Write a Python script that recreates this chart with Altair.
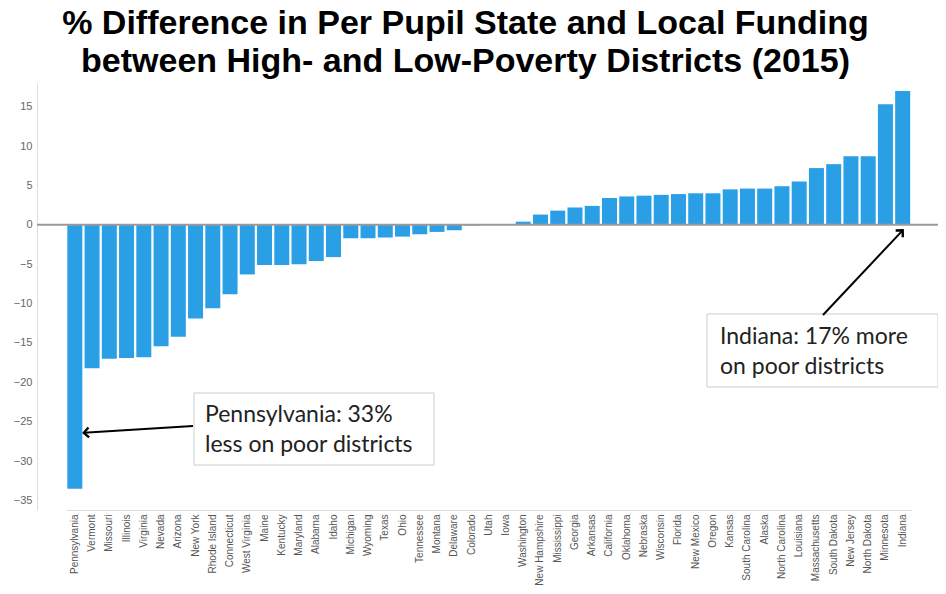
import altair as alt
import pandas as pd

states = [
    "Pennsylvania", "Vermont", "Missouri", "Illinois", "Virginia", "Nevada",
    "Arizona", "New York", "Rhode Island", "Connecticut", "West Virginia",
    "Maine", "Kentucky", "Maryland", "Alabama", "Idaho", "Michigan", "Wyoming",
    "Texas", "Ohio", "Tennessee", "Montana", "Delaware", "Colorado", "Utah",
    "Iowa", "Washington", "New Hampshire", "Mississippi", "Georgia", "Arkansas",
    "California", "Oklahoma", "Nebraska", "Wisconsin", "Florida", "New Mexico",
    "Oregon", "Kansas", "South Carolina", "Alaska", "North Carolina",
    "Louisiana", "Massachusetts", "South Dakota", "New Jersey", "North Dakota",
    "Minnesota", "Indiana",
]
pct_diff = [
    -33.5, -18.2, -17.0, -16.9, -16.8, -15.4,
    -14.2, -11.9, -10.6, -8.8, -6.3,
    -5.1, -5.1, -5.0, -4.6, -4.1, -1.7, -1.7,
    -1.6, -1.5, -1.2, -0.9, -0.7, -0.1, 0.1,
    0.1, 0.4, 1.3, 1.8, 2.2, 2.4,
    3.4, 3.6, 3.7, 3.8, 3.9, 4.0,
    4.0, 4.5, 4.6, 4.6, 4.9,
    5.5, 7.2, 7.7, 8.7, 8.7,
    15.3, 17.0,
]
y_ticks = [-35, -30, -25, -20, -15, -10, -5, 0, 5, 10, 15]

title_lines = [
    "% Difference in Per Pupil State and Local Funding",
    "between High- and Low-Poverty Districts (2015)",
]
note_penn = ["Pennsylvania: 33%", "less on poor districts"]
note_ind = ["Indiana: 17% more", "on poor districts"]

df = pd.DataFrame({"state": states, "value": pct_diff})

x_scale = alt.Scale(paddingInner=0.13, paddingOuter=0.065, range=[29.2, 874.3])
y_scale = alt.Scale(domain=[-36.2, 18], nice=False, zero=False)

x_enc = alt.X(
    "state:N",
    sort=states,
    title=None,
    scale=x_scale,
    axis=alt.Axis(
        labelAngle=270,
        labelFont="Liberation Sans",
        labelFontSize=10,
        labelColor="#555555",
        labelPadding=4,
        ticks=False,
        domainColor="#dddddd",
        labelOverlap=False,
    ),
)
y_enc = alt.Y(
    "value:Q",
    title=None,
    scale=y_scale,
    axis=alt.Axis(
        values=y_ticks,
        grid=False,
        labelFont="Liberation Sans",
        labelFontSize=11,
        labelColor="#666666",
        labelPadding=5,
        tickSize=0,
        domainColor="#dddddd",
    ),
)

bars = alt.Chart(df).mark_bar(color="#2A9FE6").encode(x=x_enc, y=y_enc)

zero = alt.Chart(pd.DataFrame({"value": [0]})).mark_rule(
    color="#9a9a9a", strokeWidth=2
).encode(y=alt.Y("value:Q", title=None))

# annotation anchors (data coordinates of arrow tips)
tips = pd.DataFrame({
    "state": ["Pennsylvania", "Indiana"],
    "value": [-26.4, -0.7],
})

arrow_penn = alt.Chart(tips.iloc[[0]]).mark_rule(
    color="black", strokeWidth=2, xOffset=9
).encode(
    x=alt.X("state:N", sort=states, title=None),
    y=alt.Y("value:Q", title=None),
    x2=alt.value(156),
    y2=alt.value(343),
)
arrow_ind = alt.Chart(tips.iloc[[1]]).mark_rule(
    color="black", strokeWidth=2
).encode(
    x=alt.X("state:N", sort=states, title=None),
    y=alt.Y("value:Q", title=None),
    x2=alt.value(786),
    y2=alt.value(232),
)
chevron = "M -0.7 0.7 L 0 0 L 0.7 0.7"
head_penn = alt.Chart(tips.iloc[[0]]).mark_point(
    shape=chevron, size=200, filled=False, color="black",
    strokeWidth=2.4, angle=266, xOffset=9, opacity=1,
).encode(x=alt.X("state:N", sort=states, title=None), y=alt.Y("value:Q", title=None))
head_ind = alt.Chart(tips.iloc[[1]]).mark_point(
    shape=chevron, size=200, filled=False, color="black",
    strokeWidth=2.4, angle=44, opacity=1,
).encode(x=alt.X("state:N", sort=states, title=None), y=alt.Y("value:Q", title=None))

box_df = pd.DataFrame({"k": [0]})
box_penn = alt.Chart(box_df).mark_rect(
    fill="white", stroke="#cccccc", strokeWidth=1
).encode(x=alt.value(157), x2=alt.value(397), y=alt.value(310), y2=alt.value(382))
box_ind = alt.Chart(box_df).mark_rect(
    fill="white", stroke="#cccccc", strokeWidth=1
).encode(x=alt.value(670), x2=alt.value(901), y=alt.value(231), y2=alt.value(304))


def note(lines, x, y0, dy):
    layers = []
    for i, line in enumerate(lines):
        d = pd.DataFrame({"t": [line]})
        layers.append(
            alt.Chart(d).mark_text(
                align="left", baseline="alphabetic", font="Lato", fontSize=23,
                color="#222222",
            ).encode(text="t:N", x=alt.value(x), y=alt.value(y0 + i * dy))
        )
    return layers


text_layers = note(note_penn, 168, 339, 30) + note(note_ind, 683, 261, 30)

chart = alt.layer(
    bars, zero, box_penn, box_ind, arrow_penn, arrow_ind,
    head_penn, head_ind, *text_layers,
).properties(
    width=901,
    height=427,
    autosize=alt.AutoSizeParams(type="none"),
    padding={"left": 29, "top": 75, "right": 0, "bottom": 76},
    title=alt.TitleParams(
        text=title_lines,
        font="Liberation Sans",
        fontSize=34,
        fontWeight="bold",
        color="black",
        anchor="middle",
        frame="group",
        lineHeight=38,
        dx=-22,
        offset=4,
    ),
).configure_view(stroke=None)

chart.save("out.html", embed_options={"renderer": "svg", "actions": False})
